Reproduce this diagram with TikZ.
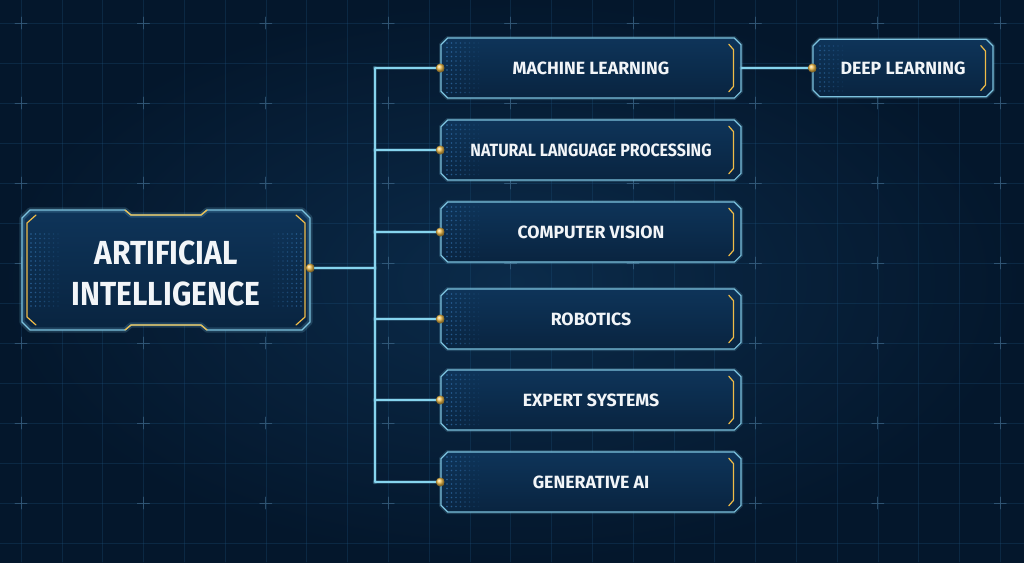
\documentclass[tikz,border=0pt]{standalone}
\usepackage{fontspec}
\newfontfamily\labelfont{Fira Sans}
\newfontfamily\titlefont{Fira Sans}[FakeStretch=0.9]
\usetikzlibrary{shapes.misc}
\definecolor{bgdark}{HTML}{04172C}
\definecolor{bgmid}{HTML}{0B2B4A}
\definecolor{gridc}{HTML}{1E5580}
\definecolor{edge}{HTML}{7CC2DE}
\definecolor{boxtop}{HTML}{0E3459}
\definecolor{boxbot}{HTML}{092440}
\definecolor{wire}{HTML}{86D4EE}
\definecolor{goldc}{HTML}{F0BC48}
\definecolor{dotc}{HTML}{3A80C2}
\definecolor{txt}{HTML}{F2F5F8}
\begin{document}
\begin{tikzpicture}[x=0.75pt,y=-0.75pt,line cap=round,line join=round,font=\labelfont\bfseries]
	\useasboundingbox (0,0) rectangle (1024,562);
	\shade[inner color=bgmid,outer color=bgdark] (0,0) rectangle (1024,562);
	\tikzset{gridline/.style={draw=gridc,line width=0.4pt,draw opacity=0.28},
		cross/.style={draw=gridc!80!white,line width=0.6pt,draw opacity=0.55},
		branch/.style={chamfered rectangle,chamfered rectangle xsep=2.5pt,chamfered rectangle ysep=2.5pt,
			draw=edge,line width=0.9pt,top color=boxtop,bottom color=boxbot,
			minimum width=225pt,minimum height=45pt,text=txt,font=\labelfont\bfseries\fontsize{13.3}{15}\selectfont,
			preaction={draw=edge,line width=3pt,draw opacity=0.2}},
		link/.style={draw=wire,line width=1.1pt,preaction={draw=wire,line width=3.5pt,draw opacity=0.2}},
		goldline/.style={draw=goldc,line width=0.9pt},
		knob/.pic={\shade[ball color=goldc] (0,0) circle (3.4pt);}}
	% grid
	\foreach \i in {0,...,24}{\draw[gridline] (21+40.8*\i,0) -- (21+40.8*\i,562);}
	\foreach \j in {0,...,13}{\draw[gridline] (0,23+40*\j) -- (1024,23+40*\j);}
	\foreach \i in {0,3,...,24}{\foreach \j in {0,2,...,12}{\draw[cross] (15+40.8*\i,23+40*\j) -- ++(12,0) (21+40.8*\i,17+40*\j) -- ++(0,12);}}
	% main box
	\def\aibox{(30,210) -- (125,210) -- (131,215) -- (201,215) -- (207,210) -- (302,210) -- (310,218) -- (310,322) -- (302,330) -- (207,330) -- (201,325) -- (131,325) -- (125,330) -- (30,330) -- (22,322) -- (22,218) -- cycle}
	\path[top color=boxtop,bottom color=boxbot] \aibox;
	\draw[edge,line width=1pt,preaction={draw=edge,line width=4pt,draw opacity=0.2}] \aibox;
	\foreach \x in {0,...,6}{\foreach \r in {0,...,16}{\fill[dotc,opacity=0.6-0.08*\x] (31+4.5*\x,234+4.5*\r) circle (0.6pt);\fill[dotc,opacity=0.6-0.08*\x] (301-4.5*\x,234+4.5*\r) circle (0.6pt);}}
	\draw[goldline] (125,210) -- (131,215) -- (201,215) -- (207,210);
	\draw[goldline] (125,330) -- (131,325) -- (201,325) -- (207,330);
	\draw[goldline] (36,215) -- (27,223) -- (27,317) -- (36,325);
	\draw[goldline] (296,215) -- (305,223) -- (305,317) -- (296,325);
	\node[minimum width=216pt,minimum height=90pt] (ai) at (166,268) {};
	\node[align=center,text=txt,font=\titlefont\bfseries\fontsize{25}{31}\selectfont] (aitext) at ([yshift=-4pt]ai.center) {ARTIFICIAL\\INTELLIGENCE};
	% branches
	\node[branch] (ml) at (591,68) {MACHINE LEARNING};
	\node[branch,font=\titlefont\bfseries\fontsize{13.3}{15}\selectfont] (nlp) at (591,150) {NATURAL LANGUAGE PROCESSING};
	\node[branch] (cv) at (591,232) {COMPUTER VISION};
	\node[branch] (rob) at (591,319) {ROBOTICS};
	\node[branch] (es) at (591,400) {EXPERT SYSTEMS};
	\node[branch] (gen) at (591,482) {GENERATIVE AI};
	\node[branch,minimum width=135pt,minimum height=43pt] (dl) at (903,68) {DEEP LEARNING};
	\foreach \y in {68,150,232,319,400,482}{\foreach \x in {0,...,7}{\foreach \r in {0,...,11}{\fill[dotc,opacity=0.65-0.08*\x] (447+4.5*\x,\y-25+4.5*\r) circle (0.65pt);}}}
	\foreach \x in {0,...,5}{\foreach \r in {0,...,10}{\fill[dotc,opacity=0.55-0.09*\x] (820+4.5*\x,46+4.5*\r) circle (0.65pt);}}
	\foreach \n in {ml,nlp,cv,rob,es,gen,dl}{\draw[goldline] ([xshift=-7pt,yshift=-2.5pt]\n.north east) -- ([xshift=-3.5pt,yshift=-6.5pt]\n.north east) -- ([xshift=-3.5pt,yshift=6.5pt]\n.south east) -- ([xshift=-7pt,yshift=2.5pt]\n.south east);}
	% connectors
	\coordinate (hub) at (375,268);
	\draw[link] (ai.east) -- (hub);
	\draw[link] (ml.west -| hub) -- (gen.west -| hub);
	\foreach \n in {ml,nlp,cv,rob,es,gen}{\draw[link] (\n.west -| hub) -- (\n.west);}
	\draw[link] (ml.east) -- (dl.west);
	\foreach \n in {ml,nlp,cv,rob,es,gen,dl}{\pic at (\n.west) {knob};}
	\pic at (ai.east) {knob};
\end{tikzpicture}
\end{document}
